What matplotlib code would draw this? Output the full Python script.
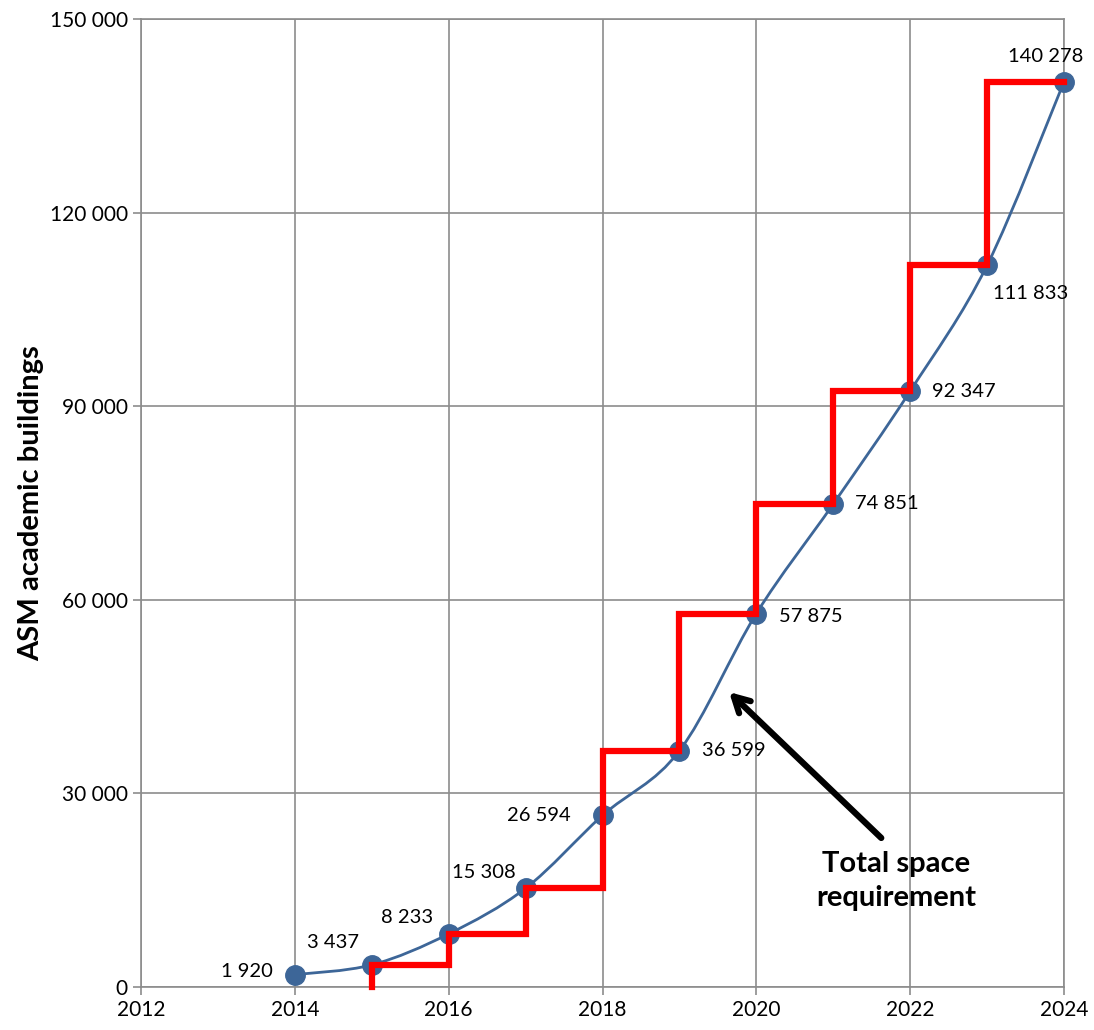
import numpy as np
import matplotlib
matplotlib.use("Agg")
import matplotlib.pyplot as plt
from matplotlib.path import Path
from matplotlib.patches import PathPatch

# data
years = [2014, 2015, 2016, 2017, 2018, 2019, 2020, 2021, 2022, 2023, 2024]
space = [1920, 3437, 8233, 15308, 26594, 36599, 57875, 74851, 92347, 111833, 140278]

# red step line (funding steps)
step_years = [2015, 2015, 2016, 2017, 2018, 2019, 2020, 2021, 2022, 2023, 2024]
step_vals = [0, 3437, 8233, 15308, 36599, 57875, 74851, 92347, 111833, 140278, 140278]

xticks = [2012, 2014, 2016, 2018, 2020, 2022, 2024]
yticks = [0, 30000, 60000, 90000, 120000, 150000]

plt.rcParams['font.family'] = ['Lato', 'DejaVu Sans']

BLUE = '#3D6698'
GRID = '#8c8c8c'


def fmt(v):
    return "{:,}".format(int(v)).replace(",", " ")


def smooth_path(xs, ys):
    # excel-style smoothed line: bezier segments, catmull-rom control points
    pts = np.column_stack([xs, ys]).astype(float)
    n = len(pts)
    verts = [pts[0]]
    codes = [Path.MOVETO]
    for i in range(n - 1):
        p0 = pts[max(i - 1, 0)]
        p1 = pts[i]
        p2 = pts[i + 1]
        p3 = pts[min(i + 2, n - 1)]
        c1 = p1 + (p2 - p0) / 6.0
        c2 = p2 - (p3 - p1) / 6.0
        verts += [c1, c2, p2]
        codes += [Path.CURVE4] * 3
    return Path(verts, codes)


fig = plt.figure(figsize=(10.94, 10.30), dpi=100)
ax = fig.add_axes([0.1289, 0.0417, 0.8437, 0.9399])

ax.set_xlim(2012, 2024)
ax.set_ylim(0, 150000)
ax.set_xticks(xticks)
ax.set_yticks(yticks)
ax.set_yticklabels([fmt(v) for v in yticks])
ax.grid(True, color=GRID, linewidth=1.2)
ax.set_axisbelow(True)
for s in ax.spines.values():
    s.set_color(GRID)
    s.set_linewidth(1.2)
ax.tick_params(axis='both', colors=GRID, length=6, width=1.2, labelcolor='black', labelsize=15)

# smooth blue curve + markers
ax.add_patch(PathPatch(smooth_path(years, space), facecolor='none', edgecolor=BLUE, lw=2.0, zorder=3))
ax.plot(years, space, 'o', color=BLUE, markersize=14, zorder=4, clip_on=False)

# red steps
ax.step(step_years, step_vals, where='post', color='red', lw=4.5, zorder=5,
        solid_joinstyle='miter', clip_on=False)

# data labels (offsets in points, alignment)
label_pos = [(-16, 2, 'right', 'center'),
             (-28, 10, 'center', 'bottom'),
             (-30, 6, 'center', 'bottom'),
             (-30, 5, 'center', 'bottom'),
             (-23, 0, 'right', 'center'),
             (16, 0, 'left', 'center'),
             (16, -2, 'left', 'center'),
             (16, 0, 'left', 'center'),
             (16, 0, 'left', 'center'),
             (4, -14, 'left', 'top'),
             (-13, 12, 'center', 'bottom')]
for x, y, (dx, dy, ha, va) in zip(years, space, label_pos):
    ax.annotate(fmt(y), (x, y), xytext=(dx, dy), textcoords='offset points',
                ha=ha, va=va, fontsize=14.5, zorder=6)

# annotation arrow
ax.annotate('', xy=(2019.62, 46000), xytext=(2021.65, 22800),
            arrowprops=dict(arrowstyle='->,head_length=1.1,head_width=0.6',
                            color='black', lw=4.5), zorder=7)
ax.text(2021.82, 16400, 'Total space\nrequirement', ha='center', va='center',
        fontsize=21, fontweight='bold', linespacing=1.4, zorder=7)

ax.set_ylabel('ASM academic buildings', fontsize=21, fontweight='bold', labelpad=4)

fig.savefig('out.png', dpi=100)
